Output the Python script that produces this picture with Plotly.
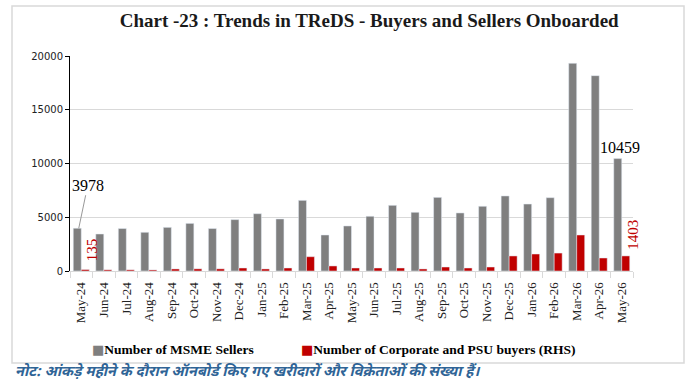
import plotly.graph_objects as go

months = ["May-24","Jun-24","Jul-24","Aug-24","Sep-24","Oct-24","Nov-24","Dec-24",
          "Jan-25","Feb-25","Mar-25","Apr-25","May-25","Jun-25","Jul-25","Aug-25",
          "Sep-25","Oct-25","Nov-25","Dec-25","Jan-26","Feb-26","Mar-26","Apr-26","May-26"]
sellers = [3978, 3440, 3950, 3600, 4060, 4430, 3950, 4780, 5330, 4840, 6570, 3350,
           4190, 5090, 6110, 5460, 6850, 5400, 6020, 6980, 6230, 6820, 19320, 18170, 10459]
buyers = [135, 110, 110, 100, 190, 200, 200, 280, 190, 280, 1330, 470, 280, 280, 280,
          190, 370, 280, 370, 1400, 1580, 1670, 3350, 1210, 1403]
y_ticks = [0, 5000, 10000, 15000, 20000]
series_names = ["Number of MSME Sellers", "Number of Corporate and PSU buyers (RHS)"]
colors = ["#7f7f7f", "#c00000"]

serif = "Liberation Serif"
L, R, T, B = 70, 61, 56, 120
W, H = 694, 391
pw, ph = W - L - R, H - T - B


def px(x):
    return (x - L) / pw


def py(y):
    return (H - B - y) / ph


fig = go.Figure()
fig.add_bar(x=months, y=sellers, name=series_names[0], marker_color=colors[0])
fig.add_bar(x=months, y=buyers, name=series_names[1], marker_color=colors[1])

fig.update_layout(
    width=W, height=H,
    margin=dict(l=L, r=R, t=T, b=B),
    paper_bgcolor="white", plot_bgcolor="white",
    barmode="group", bargap=0.29, bargroupgap=0,
    title=dict(text="<b>Chart -23 : Trends in TReDS - Buyers and Sellers Onboarded</b>",
               x=0.532, xanchor="center", y=0.948, yanchor="middle",
               font=dict(family=serif, size=19, color="#1a1a1a")),
    showlegend=False,
)
fig.update_xaxes(type="category", range=[-0.5, len(months) - 0.5], tickangle=-90,
                 tickfont=dict(family=serif, size=13, color="#222"), ticklabelstandoff=5,
                 showline=True, linecolor="#d9d9d9", ticks="outside", tickson="boundaries",
                 ticklen=6, tickcolor="#d9d9d9", showgrid=False)
fig.update_yaxes(range=[0, 20000], tickvals=y_ticks, ticktext=[str(v) for v in y_ticks],
                 tickfont=dict(family="DejaVu Sans", size=10, color="#222"),
                 showline=True, linecolor="black", ticks="outside", ticklen=4, tickcolor="black",
                 showgrid=True, gridcolor="#d9d9d9", zeroline=False)

# data labels
fig.add_annotation(x=months[0], y=sellers[0], text=str(sellers[0]), xshift=-2.5,
                   showarrow=True, arrowhead=0, arrowwidth=1, arrowcolor="#999999",
                   ax=9, ay=-43, font=dict(family=serif, size=16, color="black"))
fig.add_annotation(x=months[0], y=buyers[0], text=str(buyers[0]), xshift=10.5, yshift=20,
                   textangle=-90, showarrow=False, xanchor="center", yanchor="middle",
                   font=dict(family=serif, size=15, color="#c00000"))
fig.add_annotation(x=months[-1], y=sellers[-1], text=str(sellers[-1]), xshift=-1.5, yshift=11.5,
                   showarrow=False, xanchor="center", yanchor="middle",
                   font=dict(family=serif, size=16, color="black"))
fig.add_annotation(x=months[-1], y=buyers[-1], text=str(buyers[-1]), xshift=11.5, yshift=21.5,
                   textangle=-90, showarrow=False, xanchor="center", yanchor="middle",
                   font=dict(family=serif, size=15, color="#c00000"))

# legend (drawn as text so the swatch sits right next to the label)
for xpos, name, col in [(90, series_names[0], colors[0]), (299, series_names[1], colors[1])]:
    fig.add_annotation(xref="paper", yref="paper", x=px(xpos), y=py(349),
                       xanchor="left", yanchor="middle", showarrow=False,
                       text=f"<span style='color:{col};font-family:DejaVu Sans;font-size:13px'>■</span><b>{name}</b>",
                       font=dict(family=serif, size=13.5, color="black"))

# footnote
fig.add_annotation(xref="paper", yref="paper", x=px(13), y=py(372),
                   xanchor="left", yanchor="middle", showarrow=False,
                   text="<i><b>नोट: आंकड़े महीने के दौरान ऑनबोर्ड किए गए खरीदारों और विक्रेताओं की संख्या हैं।</b></i>",
                   font=dict(family="Noto Sans Devanagari, Noto Sans", size=14.5, color="#2f6496",
                             style="italic"))

# outer frame
fig.add_shape(type="rect", xref="paper", yref="paper",
              x0=px(12), x1=px(684), y0=py(363), y1=py(6),
              line=dict(color="#d9d9d9", width=1.5), fillcolor="rgba(0,0,0,0)", layer="below")

fig.write_html("out.html")
